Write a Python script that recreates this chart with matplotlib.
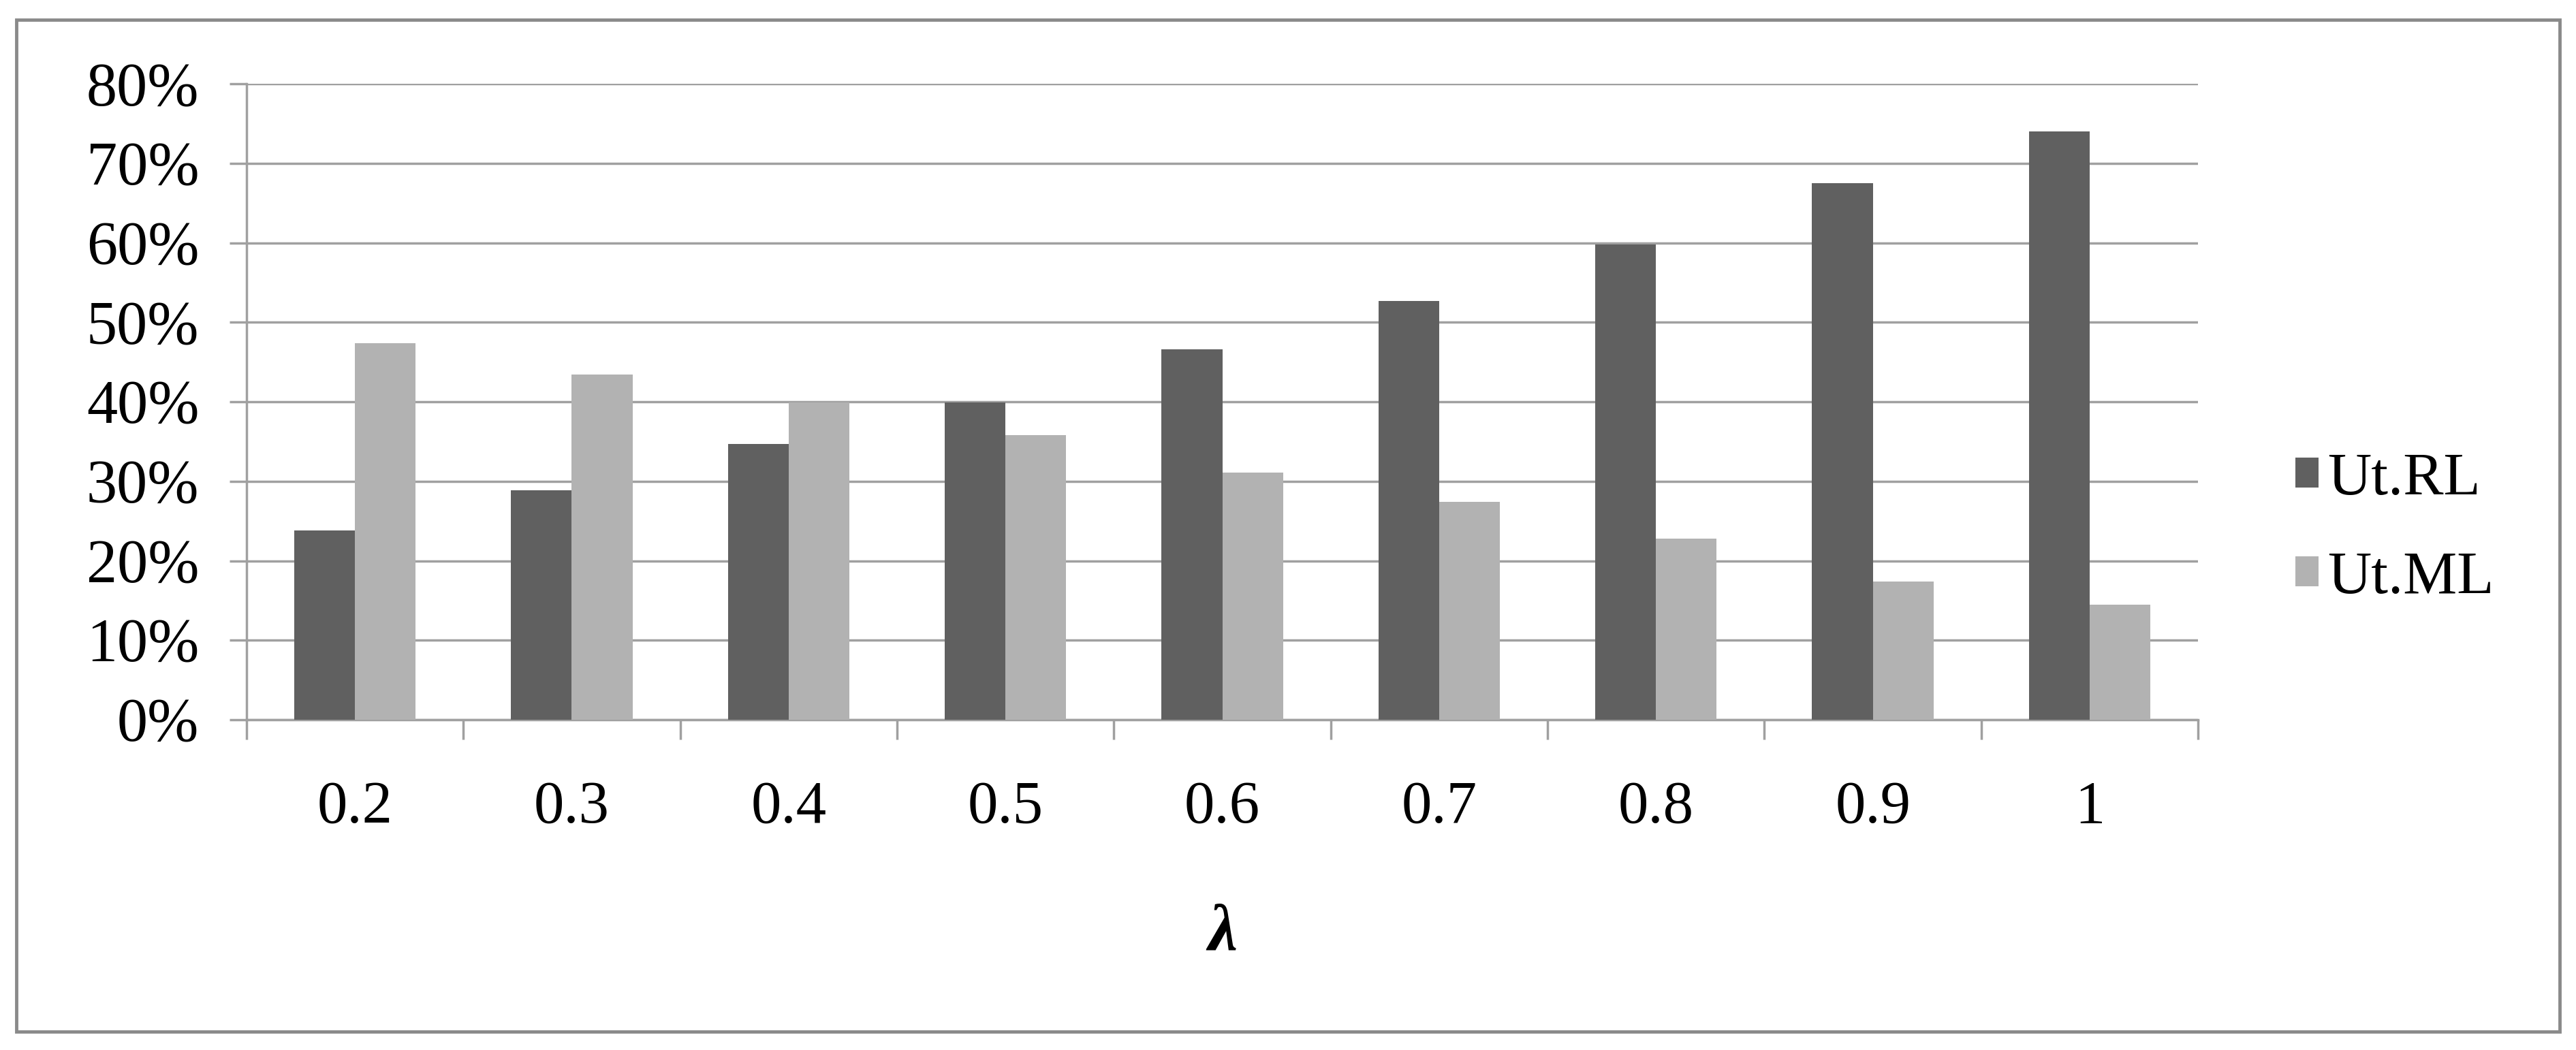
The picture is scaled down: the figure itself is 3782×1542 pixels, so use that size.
import matplotlib.pyplot as plt
import numpy as np
from matplotlib.patches import Rectangle
from matplotlib.ticker import PercentFormatter

lambdas = ["0.2", "0.3", "0.4", "0.5", "0.6", "0.7", "0.8", "0.9", "1"]
ut_rl = [23.8, 28.9, 34.7, 39.9, 46.6, 52.7, 59.8, 67.5, 74.0]
ut_ml = [47.4, 43.4, 39.9, 35.8, 31.1, 27.4, 22.8, 17.4, 14.5]

plt.rcParams["font.family"] = ["Liberation Serif", "DejaVu Serif"]

fig = plt.figure(figsize=(37.82, 15.42), dpi=100)
ax = fig.add_axes([0.0957, 0.3146, 0.8533 - 0.0957, 0.920 - 0.3146])

x = np.arange(len(lambdas))
w = 0.28
ax.bar(x - w / 2, ut_rl, w, color="#606060", label="Ut.RL", zorder=3)
ax.bar(x + w / 2, ut_ml, w, color="#b2b2b2", label="Ut.ML", zorder=3)

ax.set_xlim(-0.5, len(lambdas) - 0.5)
ax.set_ylim(0, 80)
ax.set_yticks(np.arange(0, 81, 10))
ax.yaxis.set_major_formatter(PercentFormatter(decimals=0))
ax.grid(axis="y", color="#a0a0a0", linewidth=2.5, zorder=0)

ax.set_xticks(x)
ax.set_xticklabels(lambdas)
ax.set_xticks(np.arange(-0.5, len(lambdas)), minor=True)
ax.tick_params(axis="x", which="major", length=0, pad=64, labelsize=64)
ax.tick_params(axis="x", which="minor", length=21, width=2.5, color="#a0a0a0")
ax.tick_params(axis="y", length=18, width=2.5, color="#a0a0a0", labelsize=65, pad=32)

for s in ["top", "right"]:
    ax.spines[s].set_visible(False)
for s in ["left", "bottom"]:
    ax.spines[s].set_color("#a0a0a0")
    ax.spines[s].set_linewidth(2.5)

ax.set_xlabel("\u03bb", fontsize=70, style="italic", fontweight="bold", labelpad=72)

fig.legend(loc="center left", bbox_to_anchor=(1364 / 1568, 1 - 322 / 639),
           frameon=False, fontsize=64, handlelength=0.38, handleheight=0.38,
           handletextpad=0.15, labelspacing=0.72)

fig.patches.append(Rectangle((10 / 1568, 1 - 628 / 639), 1548 / 1568, 616 / 639,
                             transform=fig.transFigure, fill=False,
                             edgecolor="#8a8a8a", linewidth=3.5))

fig.savefig("out.png", dpi=100)
